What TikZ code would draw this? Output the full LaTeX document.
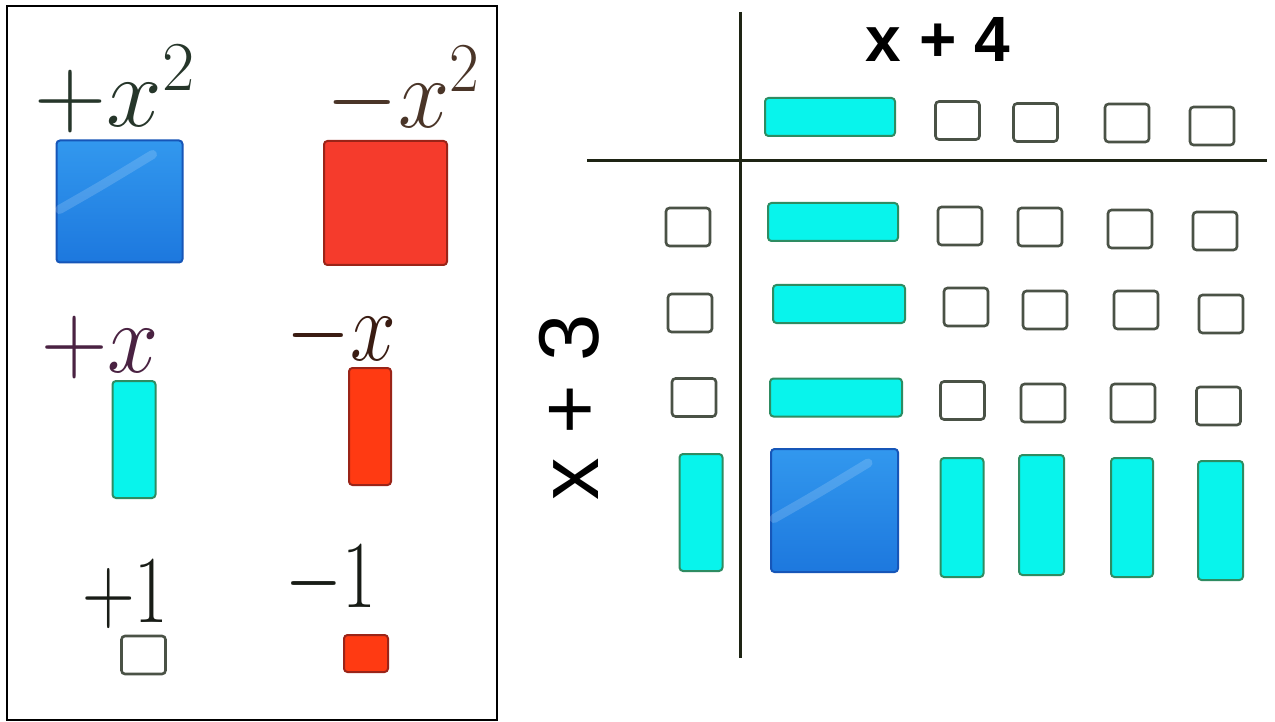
\RequirePackage{fix-cm}
\documentclass[tikz,border=0pt]{standalone}
\usepackage{fontspec}
\newfontfamily\labelfont{Liberation Sans}
\definecolor{cyanfill}{HTML}{08F4EC}
\definecolor{cyanline}{HTML}{2E8C62}
\definecolor{bluetop}{HTML}{3298EE}
\definecolor{bluebot}{HTML}{1D78DE}
\definecolor{blueline}{HTML}{1656B8}
\definecolor{redfill}{HTML}{F53B2C}
\definecolor{redline}{HTML}{9A2418}
\definecolor{orfill}{HTML}{FF3A12}
\definecolor{unitline}{HTML}{4A5246}
\definecolor{axis}{HTML}{1E2414}
\definecolor{inkA}{HTML}{26362A}
\definecolor{inkB}{HTML}{4A3528}
\definecolor{inkC}{HTML}{4A2242}
\definecolor{inkD}{HTML}{3A1C12}
\definecolor{inkE}{HTML}{181C16}
\tikzset{
  tile/.style={rectangle, rounded corners=3.5pt, line width=2pt, inner sep=0pt, outer sep=0pt},
  unitt/.style={tile, draw=unitline, fill=white, line width=2.6pt, minimum width=44pt, minimum height=38pt},
  xh/.style={tile, draw=cyanline, fill=cyanfill, minimum width=130pt, minimum height=38pt},
  xv/.style={tile, draw=cyanline, fill=cyanfill, minimum width=43pt, minimum height=117pt},
  xsq/.style={tile, draw=blueline, top color=bluetop, bottom color=bluebot, minimum width=126pt, minimum height=122pt},
  nsq/.style={tile, draw=redline, fill=redfill, minimum width=123pt, minimum height=124pt},
  nx/.style={tile, draw=redline, fill=orfill, minimum width=42pt, minimum height=117pt},
  nunit/.style={tile, draw=redline, fill=orfill, minimum width=44pt, minimum height=37pt},
  hand/.style={anchor=base, inner sep=0pt, font=\fontsize{100}{100}\selectfont},
  handone/.style={hand, font=\fontsize{96}{96}\selectfont, xscale=0.76},
  shine/.style={white, opacity=0.16, line width=9pt, line cap=round},
  axisline/.style={axis, line width=3pt},
  bigtext/.style={anchor=base, inner sep=0pt},
}
\begin{document}
\begin{tikzpicture}[x=1pt,y=-1pt]
\useasboundingbox (0,0) rectangle (1275,722);
\fill[white] (0,0) rectangle (1275,722);
% left panel frame
\draw[black, line width=2pt] (7,6) rectangle (497,720);
% legend tiles
\node[xsq] (lsq) at (119.5,201.5) {};
\draw[shine] ([xshift=3pt,yshift=-8pt]lsq.west) .. controls ([xshift=45pt,yshift=16pt]lsq.west) .. ([xshift=-30pt,yshift=-14pt]lsq.north east);
\node[nsq] (nsq1) at (385.5,203) {};
\node[xv] (lx) at (134,439.5) {};
\node[nx] (nx1) at (370,426.5) {};
\node[unitt] (lu) at (143.5,655) {};
\node[nunit] (nu1) at (366,653.5) {};
% legend labels
\node[hand, text=inkA] (lpx2) at (115,127) {$+x^2$};
\node[hand, text=inkB, xscale=0.92] (lmx2) at (403,128) {$-x^2$};
\node[hand, text=inkC, xscale=0.92] (lpx) at (100,372) {$+x$};
\node[hand, text=inkD, xscale=0.82] (lmx) at (341,360) {$-x$};
\node[handone, text=inkE] (lp1) at (125,622) {$+1$};
\node[handone, text=inkE] (lm1) at (331,607) {$-1$};
% axes
\coordinate (vtop) at (740,12);
\coordinate (vbot) at (740,658);
\coordinate (hleft) at (587,160.5);
\coordinate (hright) at (1267,160.5);
\draw[axisline] (vtop) -- (vbot);
\draw[axisline] (hleft) -- (hright);
% axis labels
\node[bigtext, font=\labelfont\bfseries\fontsize{64}{64}\selectfont] (top4) at (938,62) {x + 4};
\node[bigtext, rotate=90, font=\labelfont\fontsize{85}{85}\selectfont] (side3) at (598,407.5) {x + 3};
% top factor row
\node[xh] (t0) at (830,117) {};
\node[unitt] (t1) at (957.5,120.5) {};
\node[unitt] (t2) at (1035.5,122.5) {};
\node[unitt] (t3) at (1127,123) {};
\node[unitt] (t4) at (1212,126) {};
% side factor column
\node[unitt] (s1) at (688,227) {};
\node[unitt] (s2) at (690,313) {};
\node[unitt] (s3) at (694,397.5) {};
\node[xv] (s4) at (701,512.5) {};
% product row 1
\node[xh] (a0) at (833,222) {};
\node[unitt] (a1) at (960,226) {};
\node[unitt] (a2) at (1040,227) {};
\node[unitt] (a3) at (1130,229) {};
\node[unitt] (a4) at (1215,231) {};
% product row 2
\node[xh, minimum width=132pt] (b0) at (839,304) {};
\node[unitt] (b1) at (966,307) {};
\node[unitt] (b2) at (1045,310) {};
\node[unitt] (b3) at (1136,310) {};
\node[unitt] (b4) at (1221,314) {};
% product row 3
\node[xh, minimum width=132pt] (c0) at (836,397.5) {};
\node[unitt] (c1) at (962.5,400.5) {};
\node[unitt] (c2) at (1043,403) {};
\node[unitt] (c3) at (1133,403) {};
\node[unitt] (c4) at (1218.5,406) {};
% product row 4
\node[xsq, minimum width=127pt, minimum height=123pt] (d0) at (834.5,510.5) {};
\draw[shine] ([xshift=3pt,yshift=-8pt]d0.west) .. controls ([xshift=45pt,yshift=16pt]d0.west) .. ([xshift=-30pt,yshift=-14pt]d0.north east);
\node[xv, minimum height=119pt] (d1) at (962,517.5) {};
\node[xv, minimum width=45pt, minimum height=120pt] (d2) at (1041.5,515) {};
\node[xv, minimum width=42pt, minimum height=119pt] (d3) at (1132,517.5) {};
\node[xv, minimum width=45pt, minimum height=119pt] (d4) at (1220.5,520.5) {};
\end{tikzpicture}
\end{document}
